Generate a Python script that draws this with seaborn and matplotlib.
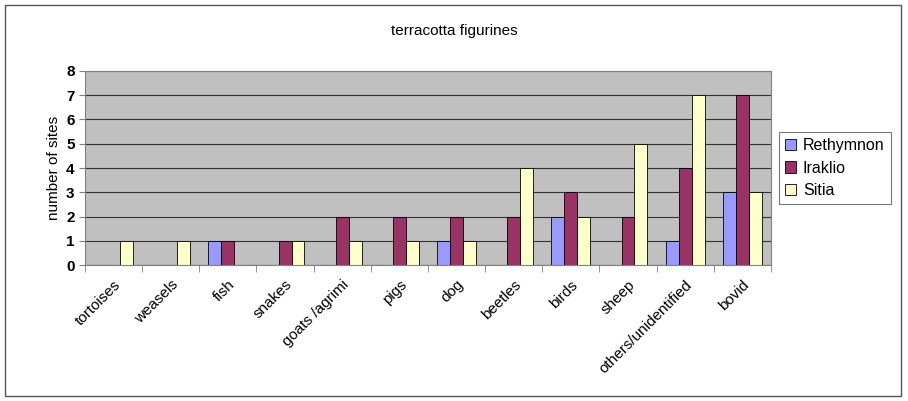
import pandas as pd
import seaborn as sns
import matplotlib.pyplot as plt
from matplotlib.patches import Rectangle

categories = ["tortoises", "weasels", "fish", "snakes", "goats /agrimi", "pigs", "dog",
              "beetles", "birds", "sheep", "others/unidentified", "bovid"]
rethymnon = [0, 0, 1, 0, 0, 0, 1, 0, 2, 0, 1, 3]
iraklio = [0, 0, 1, 1, 2, 2, 2, 2, 3, 2, 4, 7]
sitia = [1, 1, 0, 1, 1, 1, 1, 4, 2, 5, 7, 3]
series = ["Rethymnon", "Iraklio", "Sitia"]
colors = ["#9999FF", "#993366", "#FFFFCC"]

df = pd.DataFrame({
    "category": categories * 3,
    "site": [s for s in series for _ in categories],
    "value": rethymnon + iraklio + sitia,
})

plt.rcParams["font.family"] = ["Liberation Sans", "DejaVu Sans"]

fig = plt.figure(figsize=(9.08, 4.01), dpi=100)
ax = fig.add_axes([0.0936, 0.339, 0.7554, 0.484])
sns.barplot(data=df, x="category", y="value", hue="site", hue_order=series,
            palette=colors, width=0.68, edgecolor="black", linewidth=0.6,
            saturation=1, ax=ax, legend=True)

ax.set_facecolor("#C0C0C0")
ax.set_ylim(0, 8)
ax.set_yticks(range(0, 9))
ax.set_xlim(-0.5, len(categories) - 0.5)
ax.yaxis.grid(True, color="#333333", linewidth=0.8)
ax.set_axisbelow(True)
for side in ["top", "right", "left", "bottom"]:
    ax.spines[side].set_color("#808080")

ax.set_xticks(range(len(categories)))
ax.set_xticklabels(categories, rotation=45, ha="right", rotation_mode="anchor", fontsize=11)
ax.set_xticks([i + 0.5 for i in range(-1, len(categories))], minor=True)
ax.tick_params(axis="x", which="major", length=0, pad=9)
ax.tick_params(axis="x", which="minor", length=5, color="#808080")
ax.tick_params(axis="y", labelsize=11, length=4, color="#808080")
for lbl in ax.get_yticklabels():
    lbl.set_fontweight("bold")

ax.set_xlabel("")
ax.set_ylabel("number of sites", fontsize=11)
fig.text(0.5, 0.922, "terracotta figurines", ha="center", va="center", fontsize=11)

leg = ax.legend(loc="center left", bbox_to_anchor=(1.0, 0.5), frameon=True,
                fancybox=False, edgecolor="#555555", fontsize=11.5, title=None,
                handlelength=0.7, handleheight=0.7, handletextpad=0.4,
                labelspacing=0.45, borderpad=0.4)
leg.get_frame().set_linewidth(0.8)

fig.patches.append(Rectangle((0.006, 0.012), 0.986, 0.975, transform=fig.transFigure,
                             fill=False, edgecolor="#555555", linewidth=1))

fig.savefig("out.png", dpi=100)
